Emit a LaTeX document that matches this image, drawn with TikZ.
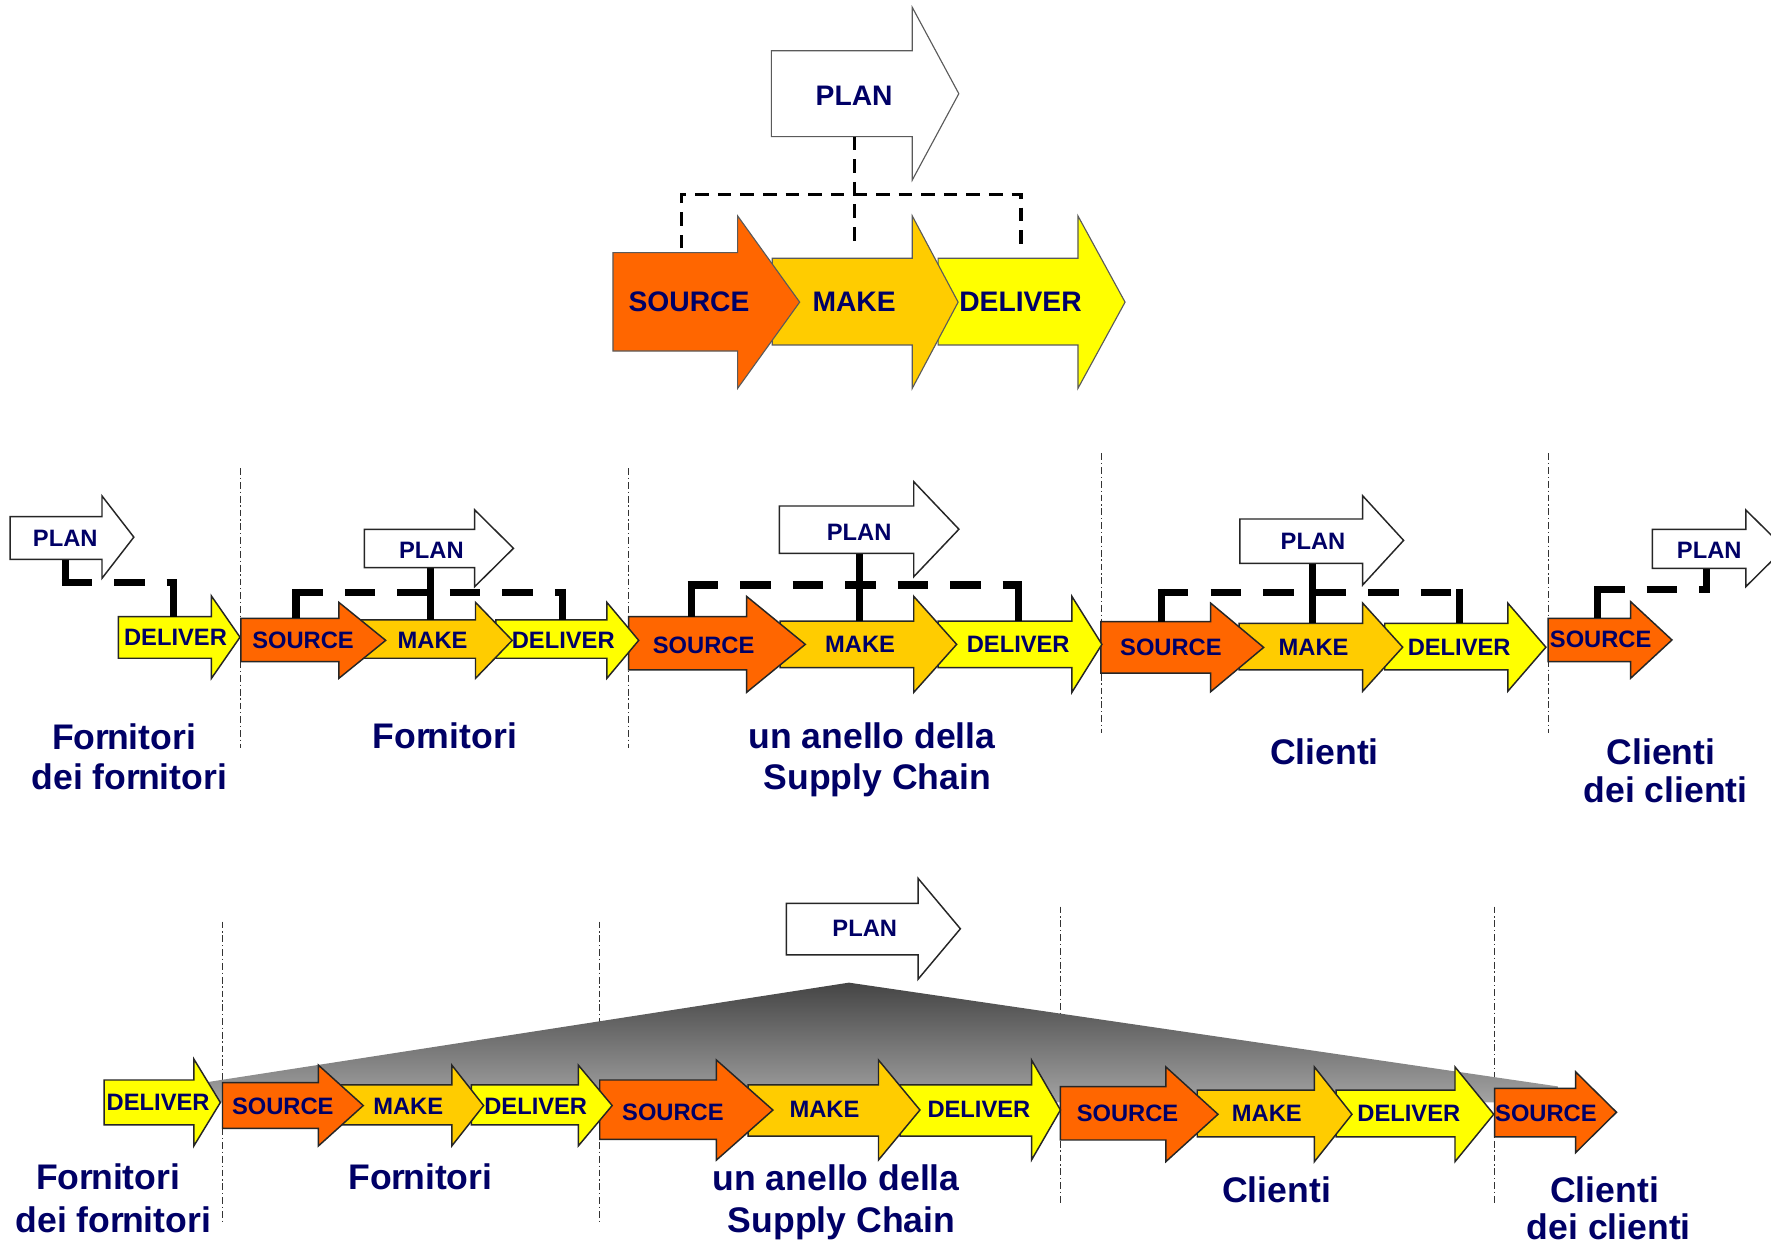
\documentclass[tikz,border=0pt]{standalone}
\usepackage{fontspec}
\setmainfont{Liberation Sans}

\definecolor{srcorange}{HTML}{FF6600}
\definecolor{makegold}{HTML}{FFCC00}
\definecolor{delyellow}{HTML}{FFFF00}
\definecolor{txtblue}{HTML}{000066}
\definecolor{edgegray}{HTML}{5A5A5A}

% block arrow: #1 style, #2 left x, #3 head base x, #4 tip x,
% #5 body top y, #6 body bottom y, #7 head top y, #8 head bottom y
\newcommand\blockarrow[8]{%
  \filldraw[#1] (#2,#5) -- (#3,#5) -- (#3,#7) -- (#4,{(#7+#8)/2})
    -- (#3,#8) -- (#3,#6) -- (#2,#6) -- cycle;}

% tight "rn" as set in the labels
\newcommand\Forn{For\kern-2pt nitori}
\newcommand\forn{for\kern-2pt nitori}

\begin{document}
\begin{tikzpicture}[x=1pt, y=-1pt,
  bigarr/.style={draw=edgegray, line width=1pt, line join=miter},
  smallarr/.style={draw=black!85, line width=1.3pt, line join=miter},
  src/.style={fill=srcorange},
  mak/.style={fill=makegold},
  del/.style={fill=delyellow},
  pln/.style={fill=white},
  bigtxt/.style={text=txtblue, font=\fontsize{25}{30}\selectfont\bfseries, anchor=base, inner sep=0pt},
  smalltxt/.style={text=txtblue, font=\fontsize{21}{25}\selectfont\bfseries, anchor=base, inner sep=0pt},
  labtxt/.style={text=txtblue, font=\fontsize{31.5}{36}\selectfont\bfseries, anchor=base, inner sep=0pt},
  thindash/.style={line width=3pt, black, dash pattern=on 12pt off 8pt},
  tie/.style={line width=6.5pt, black},
  tiedash/.style={line width=6.5pt, black, dash pattern=on 27pt off 19.5pt},
  sepline/.style={line width=1pt, black!80, dash pattern=on 6pt off 2.5pt on 1.2pt off 2.5pt}
]
\useasboundingbox (0,0) rectangle (1568,1103);
\clip (0,0) rectangle (1568,1103);
\fill[white] (0,0) rectangle (1568,1103);

% ---------------- top: PLAN over SOURCE / MAKE / DELIVER ----------------
\blockarrow{bigarr,del}{830.6}{954.4}{996.1}{228.7}{305.4}{191.2}{343.8}
\blockarrow{bigarr,mak}{683.7}{807.7}{848.3}{228.7}{305.4}{191.2}{343.8}
\blockarrow{bigarr,src}{542.7}{653.1}{708}{223.7}{310.8}{191.2}{343.8}
\blockarrow{bigarr,pln}{683}{807.7}{848.9}{44.9}{121}{6.5}{159.4}

\coordinate (t-plan) at (756.8,121);
\coordinate (t-src) at (603.5,219.9);
\coordinate (t-mak) at (756.8,219.9);
\coordinate (t-del) at (903.8,219.9);
\draw[thindash] (t-plan) -- (t-mak);
\draw[thindash] (t-src) -- (603.5,172) -- (903.8,172) -- (t-del);

\node[bigtxt] (t-plan-l) at (756.2,93.1) {PLAN};
\node[bigtxt] (t-src-l) at (610,276) {SOURCE};
\node[bigtxt] (t-mak-l) at (756.2,276) {MAKE};
\node[bigtxt] (t-del-l) at (903.5,276) {DELIVER};

% ---------------- middle: chain of links, each with its own PLAN ----------------
\draw[sepline] (213.2,414.6) -- (213.2,662.5);
\draw[sepline] (556.5,414.6) -- (556.5,662.5);
\draw[sepline] (975.6,401.4) -- (975.6,649);
\draw[sepline] (1370.7,401.4) -- (1370.7,649);

\blockarrow{smallarr,src}{1370.7}{1443.7}{1480.3}{547.4}{585.8}{532.7}{600.5}
\blockarrow{smallarr,del}{1226}{1335}{1368.7}{551.9}{593}{534}{612}
\blockarrow{smallarr,mak}{1097}{1206.5}{1241.9}{551.9}{593}{534}{612}
\blockarrow{smallarr,src}{974.7}{1071.9}{1118.8}{550.4}{596}{534}{612.4}
\blockarrow{smallarr,del}{830.6}{949}{975.6}{550}{591}{528}{613}
\blockarrow{smallarr,mak}{690.6}{809}{847}{550}{591}{528}{613}
\blockarrow{smallarr,src}{556.5}{661}{713}{546}{593}{528}{613}
\blockarrow{smallarr,del}{439}{537.3}{565.5}{548.9}{582.8}{533.3}{600.6}
\blockarrow{smallarr,mak}{295}{421}{453.5}{548.9}{582.8}{533.3}{600.6}
\blockarrow{smallarr,src}{213.2}{300}{341.5}{547.4}{585.8}{533.3}{600.6}
\blockarrow{smallarr,del}{104.8}{187.2}{212.5}{545.9}{582.8}{527.7}{600.6}

% planning links
\draw[tie] (57.8,495.2) -- (57.8,512.75);
\draw[tiedash] (54.55,516) -- (150.35,516);
\draw[tie] (153.6,512.75) -- (153.6,545.9);

\draw[tiedash] (258.75,524.7) -- (494.75,524.7);
\draw[tie] (262,521.45) -- (262,547.4);
\draw[tie] (381.2,502.6) -- (381.2,548.9);
\draw[tie] (498,521.45) -- (498,548.9);

\draw[tiedash] (608.75,518) -- (898.25,518);
\draw[tie] (612,514.75) -- (612,546);
\draw[tie] (761,490) -- (761,550);
\draw[tie] (901.5,514.75) -- (901.5,550);

\draw[tiedash] (1025.25,524.7) -- (1288.65,524.7);
\draw[tie] (1028.5,521.45) -- (1028.5,550.4);
\draw[tie] (1162,498.8) -- (1162,551.9);
\draw[tie] (1291.9,521.45) -- (1291.9,551.9);

\draw[tie] (1511,503.2) -- (1511,525.25);
\draw[tiedash] (1411.35,522) -- (1507.75,522);
\draw[tie] (1414.6,518.75) -- (1414.6,547.4);

\blockarrow{smallarr,pln}{9}{90.3}{118.5}{457.4}{495.2}{439.1}{512}
\blockarrow{smallarr,pln}{322.7}{420.3}{454.6}{468.6}{502.6}{451.5}{519.4}
\blockarrow{smallarr,pln}{690}{809}{849}{448}{490}{426.5}{510.6}
\blockarrow{smallarr,pln}{1097.7}{1206.5}{1242.7}{459.5}{498.8}{439}{517.9}
\blockarrow{smallarr,pln}{1463}{1545.7}{1580}{468.6}{503.2}{451.5}{519.4}

\node[smalltxt] (a-plan) at (57.8,484.1) {PLAN};
\node[smalltxt] (b-plan) at (382,494.5) {PLAN};
\node[smalltxt] (c-plan) at (760.7,478.2) {PLAN};
\node[smalltxt] (d-plan) at (1162.5,486.5) {PLAN};
\node[smalltxt] (e-plan) at (1513.3,494.5) {PLAN};

\node[smalltxt] (a-del) at (155.4,571.2) {DELIVER};
\node[smalltxt] (b-src) at (268.3,574.1) {SOURCE};
\node[smalltxt] (b-mak) at (383,574.1) {MAKE};
\node[smalltxt] (b-del) at (498.7,574.1) {DELIVER};
\node[smalltxt] (c-src) at (623,578.5) {SOURCE};
\node[smalltxt] (c-mak) at (761.5,577.5) {MAKE};
\node[smalltxt] (c-del) at (901.5,577.5) {DELIVER};
\node[smalltxt] (d-src) at (1036.7,580.5) {SOURCE};
\node[smalltxt] (d-mak) at (1163,580.5) {MAKE};
\node[smalltxt] (d-del) at (1291.9,580.5) {DELIVER};
\node[smalltxt] (e-src) at (1417.2,573.5) {SOURCE};

\node[labtxt] (m-fdf1) at (109.9,663.2) {\Forn};
\node[labtxt] (m-fdf2) at (114.4,698.6) {dei \forn};
\node[labtxt] (m-forn) at (393.9,663) {\Forn};
\node[labtxt] (m-anel1) at (772,663) {un anello della};
\node[labtxt] (m-anel2) at (776.7,699) {Supply Chain};
\node[labtxt] (m-cli) at (1172.6,676.5) {Clienti};
\node[labtxt] (m-cdc1) at (1470.6,676.5) {Clienti};
\node[labtxt] (m-cdc2) at (1474.6,710.4) {dei clienti};

% ---------------- bottom: one PLAN spanning the whole chain ----------------
\draw[sepline] (197,816) -- (197,1081.6);
\draw[sepline] (531,816) -- (531,1081.6);
\draw[sepline] (938.9,802.7) -- (938.9,1066.8);
\draw[sepline] (1323.2,802.7) -- (1323.2,1066.8);

\shade[top color=black!73, bottom color=black!36]
  (184,958) -- (751.6,870) -- (1380,962) -- (1380,976) -- (184,976) -- cycle;

\blockarrow{smallarr,src}{1323.2}{1395}{1431.2}{963.6}{1006.5}{949}{1020.5}
\blockarrow{smallarr,del}{1183}{1288.2}{1322.5}{965.2}{1006.5}{944.6}{1028.5}
\blockarrow{smallarr,mak}{1060}{1163.7}{1197}{965.2}{1006.5}{944.6}{1028.5}
\blockarrow{smallarr,src}{938.9}{1032.2}{1078.4}{962.1}{1009.3}{944.6}{1028.5}
\blockarrow{smallarr,del}{797}{913.3}{938.9}{960.6}{1005.8}{938.5}{1027}
\blockarrow{smallarr,mak}{662.3}{777.8}{814.5}{960.6}{1005.8}{938.5}{1027}
\blockarrow{smallarr,src}{531}{634.3}{684.3}{956.2}{1008.7}{938.5}{1027.1}
\blockarrow{smallarr,del}{417.4}{512}{542}{960.6}{996}{943}{1014.6}
\blockarrow{smallarr,mak}{280}{400}{428.2}{960.6}{996}{943}{1014.6}
\blockarrow{smallarr,src}{197}{281.9}{321.6}{958.5}{999}{943}{1014.6}
\blockarrow{smallarr,del}{92.1}{171.6}{195.1}{956.2}{996}{937.6}{1014.6}

\blockarrow{smallarr,pln}{696.2}{812.8}{850.3}{799.8}{845.5}{777.6}{867}
\node[smalltxt] (g-plan) at (765.6,829.4) {PLAN};

\node[smalltxt] (f-del) at (140,983.5) {DELIVER};
\node[smalltxt] (g-src) at (250.4,986.7) {SOURCE};
\node[smalltxt] (g-mak) at (361.4,986.5) {MAKE};
\node[smalltxt] (g-del) at (474.3,986.5) {DELIVER};
\node[smalltxt] (h-src) at (595.8,991.7) {SOURCE};
\node[smalltxt] (h-mak) at (730,989.5) {MAKE};
\node[smalltxt] (h-del) at (866.7,989.5) {DELIVER};
\node[smalltxt] (i-src) at (998.3,993.3) {SOURCE};
\node[smalltxt] (i-mak) at (1121.6,993.3) {MAKE};
\node[smalltxt] (i-del) at (1247.3,993.3) {DELIVER};
\node[smalltxt] (j-src) at (1368.7,992.5) {SOURCE};

\node[labtxt] (b-fdf1) at (95.8,1052.8) {\Forn};
\node[labtxt] (b-fdf2) at (100.3,1090.8) {dei \forn};
\node[labtxt] (b-forn) at (372.2,1052.8) {\Forn};
\node[labtxt] (b-anel1) at (740.2,1054.2) {un anello della};
\node[labtxt] (b-anel2) at (745.1,1090.8) {Supply Chain};
\node[labtxt] (b-cli) at (1130.3,1064.6) {Clienti};
\node[labtxt] (b-cdc1) at (1420.7,1064.6) {Clienti};
\node[labtxt] (b-cdc2) at (1424.4,1097.5) {dei clienti};
\end{tikzpicture}
\end{document}
